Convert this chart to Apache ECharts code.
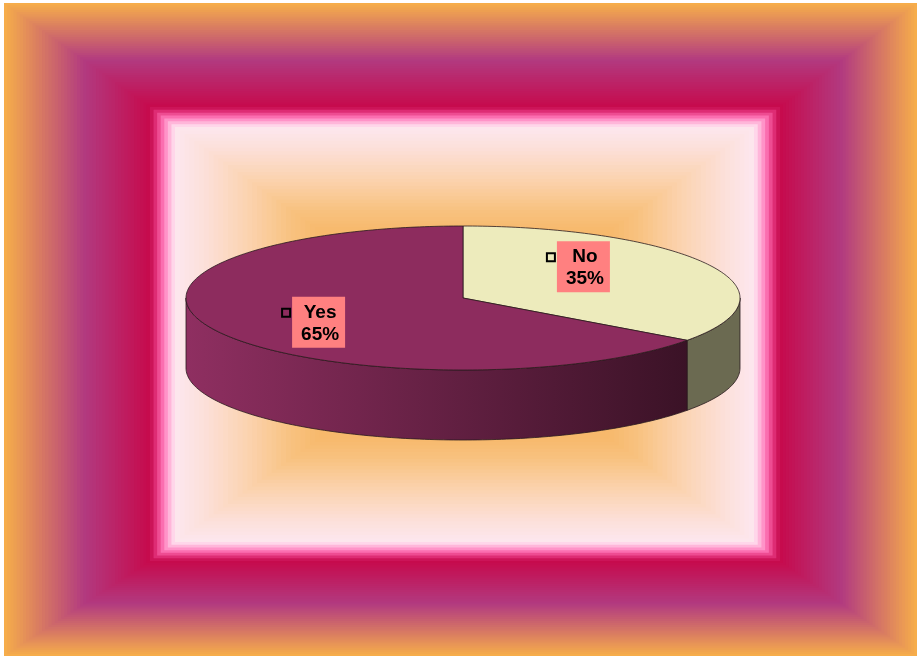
<!DOCTYPE html>
<html><head><meta charset="utf-8">
<script src="https://cdn.jsdelivr.net/npm/echarts@6/dist/echarts.min.js"></script>
<style>html,body{margin:0;padding:0;background:#fff}#c{width:917px;height:659px}</style>
</head><body><div id="c"></div>
<script>
// ---- data ----
const categories = ['No', 'Yes'];
const values = [35, 65];

// ---- style / layout ----
const topColors = ['#EDEBBC', '#8D2C5E'];
const wallFills = [
  '#6B6A51',
  {type:'linear', x:186, y:0, x2:690, y2:0, global:true,
   colorStops:[{offset:0,color:'#8F2F61'},{offset:1,color:'#3A1226'}]}
];
const G = {cx:463, cy:298, rx:277, ry:72, depth:70};
const labelShift = [[-3, -15], [-21, 8]];

function hex2rgb(h){return [parseInt(h.slice(1,3),16),parseInt(h.slice(3,5),16),parseInt(h.slice(5,7),16)];}
function interp(stops, t){
  if (t<=stops[0][0]) return stops[0][1];
  for (let i=1;i<stops.length;i++){
    if (t<=stops[i][0]){
      const a=stops[i-1], b=stops[i]; const f=(t-a[0])/(b[0]-a[0]);
      const A=hex2rgb(a[1]), B=hex2rgb(b[1]);
      return 'rgb('+A.map((v,k)=>Math.round(v+(B[k]-v)*f)).join(',')+')';
    }
  }
  return stops[stops.length-1][1];
}
function lerpRect(a,b,t){return a.map((v,k)=>v+(b[k]-v)*t);}

const bg = [];
// outer frame (stepped rectangular gradient)
const outerR = [4,3,917,656], frameIn = [150,107,780,561];
const frameStops = [[0,'#F7AF4A'],[0.55,'#B23A80'],[1,'#C70A4C']];
const NF = 46;
for (let k=0;k<NF;k++){
  const r = lerpRect(outerR, frameIn, k/NF);
  bg.push({type:'rect', shape:{x:r[0],y:r[1],width:r[2]-r[0],height:r[3]-r[1]}, style:{fill:interp(frameStops,(k+0.5)/NF)}, silent:true});
}
// pink ring
const ringCols = ['#CC1458','#DE2C74','#EE4C92','#FB6EB0','#FF93C8','#FFB6DA','#FFD6EA'];
const panel = [175,127,754,542];
for (let k=0;k<ringCols.length;k++){
  const r = lerpRect(frameIn, panel, k/ringCols.length);
  bg.push({type:'rect', shape:{x:r[0],y:r[1],width:r[2]-r[0],height:r[3]-r[1]}, style:{fill:ringCols[k]}, silent:true});
}
// inner panel (rectangular gradient to centre)
const pcx=(panel[0]+panel[2])/2, pcy=(panel[1]+panel[3])/2, hw=(panel[2]-panel[0])/2, hh=(panel[3]-panel[1])/2;
const panelStops = [[0,'#F6B464'],[0.5,'#F7B96C'],[0.6,'#F8C280'],[0.75,'#FBD3B0'],[0.9,'#FCE0DA'],[1,'#FDE6EF']];
const NP = 60;
for (let k=0;k<NP;k++){
  const r = 1 - k/NP;
  bg.push({type:'rect', shape:{x:pcx-hw*r,y:pcy-hh*r,width:2*hw*r,height:2*hh*r}, style:{fill:interp(panelStops, r-0.5/NP)}, silent:true});
}

function pt(a, f, dy){
  const r = a*Math.PI/180;
  return [G.cx + G.rx*f*Math.sin(r), G.cy - G.ry*f*Math.cos(r) + (dy||0)];
}

const chart = echarts.init(document.getElementById('c'), null, {renderer:'canvas'});
chart.setOption({
  animation:false,
  backgroundColor:'#fff',
  graphic:{elements:[{type:'group', z:-10, silent:true, children:bg}]},
  series:[{
    type:'custom',
    coordinateSystem:'none',
    z:10,
    data: values.map((v,i)=>({value:v, name:categories[i]})),
    renderItem(params, api){
      const i = params.dataIndex;
      const total = values.reduce((s,v)=>s+v,0);
      let before = 0; for (let k=0;k<i;k++) before += values[k];
      const v = api.value(0);
      const a0 = before/total*360, a1 = (before+v)/total*360;
      const children = [];
      const s = Math.max(a0,90), e = Math.min(a1,270);
      if (e > s){
        const pts=[]; const n=Math.ceil(e-s);
        for (let j=0;j<=n;j++) pts.push(pt(s+(e-s)*j/n,1,0));
        for (let j=n;j>=0;j--) pts.push(pt(s+(e-s)*j/n,1,G.depth));
        children.push({type:'polygon', shape:{points:pts}, style:{fill:wallFills[i], stroke:'#2a1a1e', lineWidth:0.8}, z2:1});
      }
      const tp=[[G.cx,G.cy]]; const n2=Math.ceil(a1-a0);
      for (let j=0;j<=n2;j++) tp.push(pt(a0+(a1-a0)*j/n2,1,0));
      children.push({type:'polygon', shape:{points:tp}, style:{fill:topColors[i], stroke:'#2a1a1e', lineWidth:0.8}, z2:5});
      const mid=(a0+a1)/2; const p=pt(mid,0.5,0);
      const bx=p[0]+labelShift[i][0], by=p[1]+labelShift[i][1];
      const pct = Math.round(v/total*100)+'%';
      children.push({type:'rect', shape:{x:bx-26.5,y:by-25.5,width:53,height:51}, style:{fill:'#FF8080'}, z2:10});
      children.push({type:'text', x:bx+1.5, y:by+1.5, style:{text:categories[i]+'\n'+pct, font:'bold 19px "Liberation Sans", Arial, sans-serif', fill:'#000', align:'center', verticalAlign:'middle', lineHeight:22}, z2:11});
      children.push({type:'rect', shape:{x:bx-32.5-4,y:by-9.5-4,width:8,height:8}, style:{fill:topColors[i], stroke:'#000', lineWidth:2}, z2:11});
      return {type:'group', children};
    }
  }]
});
</script></body></html>
